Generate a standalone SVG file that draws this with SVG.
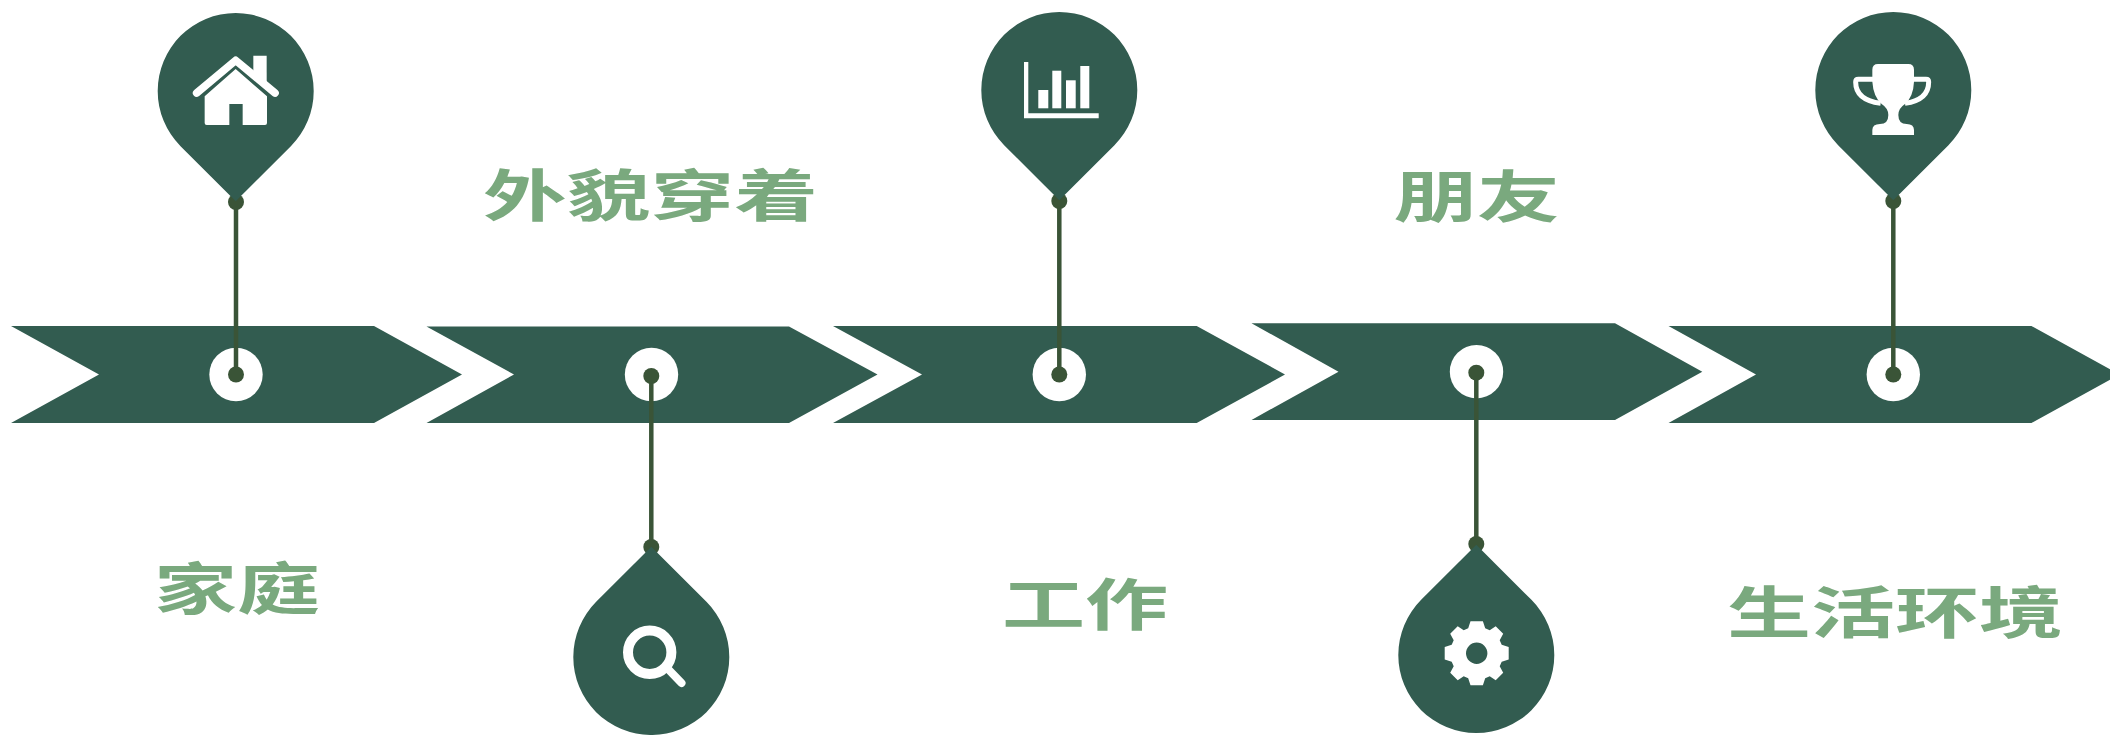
<svg xmlns="http://www.w3.org/2000/svg" width="2110" height="735" viewBox="0 0 2110 735">
<style>
.band{fill:#325c50}
.hole{fill:#fff}
.pin{fill:#325c50}
.wire{stroke:#3a5437;stroke-width:4.5;fill:none}
.dot{fill:#3a5437}
.ic{fill:#fff}
.ics{fill:none;stroke:#fff}
.lbl{font-family:"Noto Sans CJK SC","Noto Sans CJK TC",sans-serif;font-weight:700;font-size:56px;fill:#7aa97e}
</style>
<defs>
<path id="drop" d="M-55.15 55.15A78 78 0 1 1 55.15 55.15L0 110.3Z"/>
<path id="drop-down" d="M-55.15 -55.15A78 78 0 1 0 55.15 -55.15L0 -110.3Z"/>
</defs>
<rect width="2110" height="735" fill="#fff"/>
<g id="step-1"><polygon class="band" points="11,326 374,326 462,374.5 374,423 11,423 99,374.5"/><circle class="hole" cx="236" cy="374.5" r="26.7"/></g>
<g id="step-2"><polygon class="band" points="426.5,326.5 789,326.5 877.5,374.5 789,423 426.5,423 514,374.5"/><circle class="hole" cx="651.5" cy="374.5" r="26.7"/></g>
<g id="step-3"><polygon class="band" points="833,326 1196.7,326 1285,374.5 1196.7,423 833,423 922,374.5"/><circle class="hole" cx="1059.3" cy="374.5" r="26.7"/></g>
<g id="step-4"><polygon class="band" points="1251.5,323.3 1615,323.3 1702.3,371.7 1615,420 1251.5,420 1338.5,371.7"/><circle class="hole" cx="1476.5" cy="371.7" r="26.7"/></g>
<g id="step-5"><polygon class="band" points="1668.5,326 2031.5,326 2119.5,374.5 2031.5,423 1668.5,423 1756,374.5"/><circle class="hole" cx="1893.3" cy="374.5" r="26.7"/></g>
<g id="connectors">
<line class="wire" x1="236" y1="202" x2="236" y2="374.5"/><circle class="dot" cx="236" cy="202" r="8"/><circle class="dot" cx="236" cy="374.5" r="8"/>
<line class="wire" x1="651.3" y1="376" x2="651.3" y2="547"/><circle class="dot" cx="651.3" cy="376" r="8"/><circle class="dot" cx="651.3" cy="547" r="8"/>
<line class="wire" x1="1059.3" y1="201" x2="1059.3" y2="374.5"/><circle class="dot" cx="1059.3" cy="201" r="8"/><circle class="dot" cx="1059.3" cy="374.5" r="8"/>
<line class="wire" x1="1476.3" y1="372.7" x2="1476.3" y2="544"/><circle class="dot" cx="1476.3" cy="372.7" r="8"/><circle class="dot" cx="1476.3" cy="544" r="8"/>
<line class="wire" x1="1893.3" y1="201" x2="1893.3" y2="374.5"/><circle class="dot" cx="1893.3" cy="201" r="8"/><circle class="dot" cx="1893.3" cy="374.5" r="8"/>
</g>
<g id="pin-home">
<use href="#drop" class="pin" transform="translate(235.7 91)"/>
<g transform="translate(120 0) scale(.33333)">
<path class="ic" d="M400 167H440V250L400 215Z"/>
<path class="ics" stroke-width="23" stroke-linecap="round" stroke-linejoin="round" d="M230 279L347 181L465 279"/>
<path class="ic" d="M254 289L347 207L441 289V369Q441 375 435 375H368V312H328V375H260Q254 375 254 369Z"/>
</g>
</g>
<g id="pin-search">
<use href="#drop-down" class="pin" transform="translate(651.3 657)"/>
<circle class="ics" cx="649.7" cy="652.3" r="21.7" stroke-width="10"/>
<path class="ics" stroke-width="8" stroke-linecap="round" d="M668 669L681.5 683"/>
</g>
<g id="pin-chart">
<use href="#drop" class="pin" transform="translate(1059.3 90)"/>
<path class="ic" d="M1024 62H1028.3V113.3H1098.7V118.3H1024Z"/>
<rect class="ic" x="1038.3" y="90" width="10" height="18.3"/>
<rect class="ic" x="1052.3" y="70.7" width="9" height="37.6"/>
<rect class="ic" x="1066" y="80.3" width="9.7" height="28"/>
<rect class="ic" x="1080.3" y="66" width="9" height="42.3"/>
</g>
<g id="pin-gear">
<use href="#drop-down" class="pin" transform="translate(1476.3 655)"/>
<g transform="translate(1476.7 653.3)">
<path class="ic" fill-rule="evenodd" d="M-6.2 -32H6.2L8.5 -25L13 -23L19 -27L26.5 -19.5L23 -13L25 -8.5L32 -6.2V6.2L25 8.5L23 13L26.5 19.5L19 27L13 23L8.5 25L6.2 32H-6.2L-8.5 25L-13 23L-19 27L-26.5 19.5L-23 13L-25 8.5L-32 6.2V-6.2L-25 -8.5L-23 -13L-26.5 -19.5L-19 -27L-13 -23L-8.5 -25ZM10.7 0A10.7 10.7 0 1 0 -10.7 0A10.7 10.7 0 1 0 10.7 0Z"/>
</g>
</g>
<g id="pin-trophy">
<use href="#drop" class="pin" transform="translate(1893.3 90)"/>
<g transform="translate(1790 0) scale(.33333)">
<path class="ic" d="M264 192H355Q372 192 372 209V245Q370 290 345 312Q325 325 325 345Q325 372 350 372Q372 372 372 390V405H247V390Q247 372 270 372Q295 372 295 345Q295 325 275 312Q250 290 247 245V209Q247 192 264 192Z"/>
<path class="ics" stroke-width="15" d="M250 238H205Q197 238 197 246Q197 300 272 310M370 238H408Q416 238 416 246Q416 300 345 310"/>
</g>
</g>
<g id="label-home"><text class="lbl" x="154" y="609" textLength="166" lengthAdjust="spacingAndGlyphs">家庭</text></g>
<g id="label-look"><text class="lbl" x="483" y="216" textLength="335" lengthAdjust="spacingAndGlyphs">外貌穿着</text></g>
<g id="label-work"><text class="lbl" x="1002" y="625" textLength="166" lengthAdjust="spacingAndGlyphs">工作</text></g>
<g id="label-friend"><text class="lbl" x="1394" y="217" textLength="166" lengthAdjust="spacingAndGlyphs">朋友</text></g>
<g id="label-env"><text class="lbl" x="1727" y="633" textLength="336" lengthAdjust="spacingAndGlyphs">生活环境</text></g>
</svg>
